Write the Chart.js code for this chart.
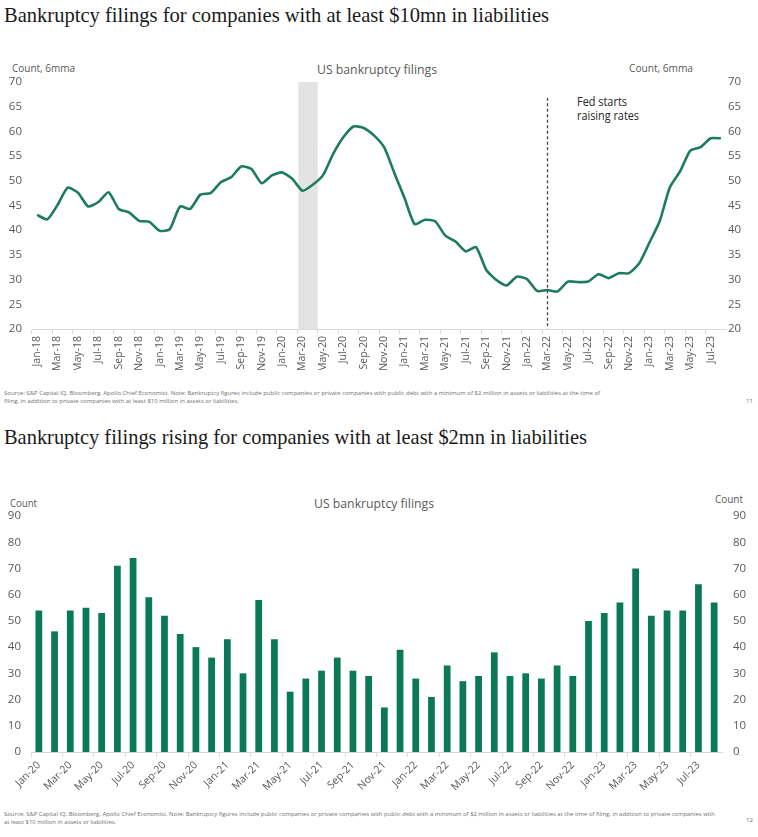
<!DOCTYPE html>
<html>
<head>
<meta charset="utf-8">
<script src="https://cdn.jsdelivr.net/npm/chart.js@4.4.0/dist/chart.umd.min.js"></script>
<style>
  body { margin: 0; width: 758px; height: 837px; background: #fff; position: relative; overflow: hidden; font-family: 'Open Sans', sans-serif; }
  .abs { position: absolute; white-space: nowrap; line-height: 1; transform-origin: left top; }
  .title { font-family: 'Liberation Serif', serif; font-size: 21px; color: #1a1a1a; }
  .lbl { font-size: 11px; color: #595959; }
  .head { font-size: 12.5px; color: #595959; }
  .note { font-size: 12.5px; color: #262626; }
  .src { font-size: 6px; color: #6f6f6f; line-height: 8px; }
  .box { position: absolute; left: 0; width: 758px; }
</style>
</head>
<body>
<div class="abs title" data-w="545" style="left:4px; top:5px;">Bankruptcy filings for companies with at least $10mn in liabilities</div>
<div class="abs lbl" data-w="63" style="left:12px; top:62px;">Count, 6mma</div>
<div class="abs lbl" data-w="64" style="left:629px; top:62px;">Count, 6mma</div>
<div class="abs head" data-w="120" style="left:317px; top:64px;">US bankruptcy filings</div>
<div class="abs note" data-w="50" style="left:577px; top:96px;">Fed starts</div>
<div class="abs note" data-w="62" style="left:577px; top:110px;">raising rates</div>
<div class="box" style="top:60px; height:310px;"><canvas id="myLine"></canvas></div>
<div class="abs src" data-w="596" style="left:4px; top:389px;">Source: S&amp;P Capital IQ, Bloomberg, Apollo Chief Economist. Note: Bankruptcy figures include public companies or private companies with public debt with a minimum of $2 million in assets or liabilities at the time of<br>filing, in addition to private companies with at least $10 million in assets or liabilities.</div>
<div class="abs src" style="left:746px; top:397px;">11</div>

<div class="abs title" data-w="583" style="left:4px; top:427px;">Bankruptcy filings rising for companies with at least $2mn in liabilities</div>
<div class="abs lbl" data-w="27" style="left:10px; top:497px;">Count</div>
<div class="abs lbl" data-w="28" style="left:715px; top:493px;">Count</div>
<div class="abs head" data-w="120" style="left:314px; top:498px;">US bankruptcy filings</div>
<div class="box" style="top:490px; height:310px;"><canvas id="myBars"></canvas></div>
<div class="abs src" data-w="711" style="left:4px; top:810px;">Source: S&amp;P Capital IQ, Bloomberg, Apollo Chief Economist. Note: Bankruptcy figures include public companies or private companies with public debt with a minimum of $2 million in assets or liabilities at the time of filing, in addition to private companies with<br>at least $10 million in assets or liabilities.</div>
<div class="abs src" style="left:746px; top:816px;">12</div>

<script>
/* global Chart */
'use strict';

const monthNames = ['Jan', 'Feb', 'Mar', 'Apr', 'May', 'Jun', 'Jul', 'Aug', 'Sep', 'Oct', 'Nov', 'Dec'];

// top chart: 6 month moving average, Jan-18 .. Aug-23
const months6mma = monthLabels(2018, 68);
const filings6mma = [
  43.1, 42.2, 45.1, 48.6, 47.6, 44.8, 45.7, 47.7, 44.3, 43.6,
  41.9, 41.7, 39.9, 40.2, 44.8, 44.3, 47.2, 47.5, 49.7, 50.7,
  52.9, 52.4, 49.5, 51.1, 51.7, 50.4, 48.0, 49.2, 51.1, 55.4,
  58.8, 61.0, 60.7, 59.2, 56.8, 51.6, 46.5, 41.2, 42.1, 41.8,
  38.9, 37.7, 35.7, 36.6, 32.0, 29.9, 28.8, 30.6, 30.1, 27.7,
  27.9, 27.6, 29.6, 29.5, 29.6, 31.1, 30.3, 31.3, 31.3, 33.3,
  37.5, 41.8, 48.7, 51.9, 56.1, 56.8, 58.6, 58.6
];
const ticks6mma = [20, 25, 30, 35, 40, 45, 50, 55, 60, 65, 70];
const recession = ['Mar-20', 'Apr-20'];
const fedHike = 'Mar-22';

// bottom chart: monthly count, Jan-20 .. Aug-23
const monthsCount = monthLabels(2020, 44);
const filingsCount = [
  54, 46, 54, 55, 53, 71, 74, 59, 52, 45, 40, 36,
  43, 30, 58, 43, 23, 28, 31, 36, 31, 29, 17, 39,
  28, 21, 33, 27, 29, 38, 29, 30, 28, 33, 29, 50,
  53, 57, 70, 52, 54, 54, 64, 57
];
const ticksCount = [0, 10, 20, 30, 40, 50, 60, 70, 80, 90];

const green = '#0b7858';
const lineGreen = '#1d7b61';
const gray = '#595959';
const axisGray = '#d9d9d9';

function monthLabels (startYear, n) {
  const out = [];
  for (let i = 0; i < n; i++) {
    const yr = String((startYear + Math.floor(i / 12)) % 100).padStart(2, '0');
    out.push(monthNames[i % 12] + '-' + yr);
  }
  return out;
}

// shaded recession + dashed fed line
const markers = {
  id: 'markers',
  beforeDatasetsDraw (chart, args, opts) {
    const x = chart.scales.x;
    const y = chart.scales.y;
    const area = chart.chartArea;
    const ctx = chart.ctx;
    const labels = x.getLabels();
    ctx.save();
    if (opts.shade) {
      const x0 = x.getPixelForValue(labels.indexOf(opts.shade[0]) - 0.4);
      const x1 = x.getPixelForValue(labels.indexOf(opts.shade[1]) + 0.5);
      ctx.fillStyle = '#e3e3e3';
      ctx.fillRect(x0, area.top, x1 - x0, area.bottom - area.top);
    }
    if (opts.vline) {
      const xv = Math.round(x.getPixelForValue(labels.indexOf(opts.vline))) + 0.5;
      ctx.strokeStyle = '#444';
      ctx.lineWidth = 1.3;
      ctx.setLineDash([3, 2.5]);
      ctx.beginPath();
      ctx.moveTo(xv, y.getPixelForValue(opts.vlineTop));
      ctx.lineTo(xv, area.bottom);
      ctx.stroke();
    }
    ctx.restore();
  }
};

function yAxis (ticks, position, width, pad) {
  return {
    position: position,
    min: ticks[0],
    max: ticks[ticks.length - 1],
    grid: { display: false, drawTicks: false },
    border: { display: false },
    afterFit: function (scale) { scale.width = width; },
    afterBuildTicks: function (scale) {
      scale.ticks = ticks.map(function (v) { return { value: v }; });
    },
    ticks: {
      color: gray,
      padding: pad,
      font: { family: 'Open Sans', size: 11.5 }
    }
  };
}

function xAxis (rotation, height) {
  return {
    offset: true,
    border: { color: axisGray, width: 1 },
    afterFit: function (scale) { scale.height = height; },
    grid: {
      offset: true,
      drawOnChartArea: false,
      tickLength: 5,
      color: function (c) { return c.index % 2 === 0 ? axisGray : 'rgba(0,0,0,0)'; }
    },
    ticks: {
      autoSkip: false,
      maxRotation: rotation,
      minRotation: rotation,
      padding: 2,
      color: gray,
      font: { family: 'Open Sans', size: 10.5 },
      callback: function (v, i) { return i % 2 === 0 ? this.getLabelForValue(v) : ''; }
    }
  };
}

function init () {
  new Chart(document.getElementById('myLine'), {
    type: 'line',
    data: {
      labels: months6mma,
      datasets: [{
        data: filings6mma,
        borderColor: lineGreen,
        borderWidth: 2.6,
        pointRadius: 0,
        tension: 0.2,
        yAxisID: 'y'
      }]
    },
    options: {
      responsive: true,
      maintainAspectRatio: false,
      animation: false,
      layout: { padding: { top: 22, left: 0, right: 0, bottom: 0 } },
      plugins: {
        legend: { display: false },
        tooltip: { enabled: false },
        markers: { shade: recession, vline: fedHike, vlineTop: 66.8 }
      },
      scales: {
        x: xAxis(90, 41),
        y: yAxis(ticks6mma, 'left', 32, 10),
        y2: yAxis(ticks6mma, 'right', 32, 2)
      }
    },
    plugins: [markers]
  });

  new Chart(document.getElementById('myBars'), {
    type: 'bar',
    data: {
      labels: monthsCount,
      datasets: [{
        data: filingsCount,
        backgroundColor: green,
        barPercentage: 0.43,
        categoryPercentage: 1,
        yAxisID: 'y'
      }]
    },
    options: {
      responsive: true,
      maintainAspectRatio: false,
      animation: false,
      layout: { padding: { top: 26, left: 0, right: 0, bottom: 0 } },
      plugins: {
        legend: { display: false },
        tooltip: { enabled: false }
      },
      scales: {
        x: xAxis(45, 48),
        y: yAxis(ticksCount, 'left', 31, 10),
        y2: yAxis(ticksCount, 'right', 36, 11)
      }
    }
  });

  // squeeze text blocks to the widths seen in the picture
  document.querySelectorAll('[data-w]').forEach(function (el) {
    const w = el.getBoundingClientRect().width;
    el.style.transform = 'scaleX(' + (parseFloat(el.dataset.w) / w) + ')';
  });
}

window.addEventListener('load', init);
</script>
</body>
</html>
